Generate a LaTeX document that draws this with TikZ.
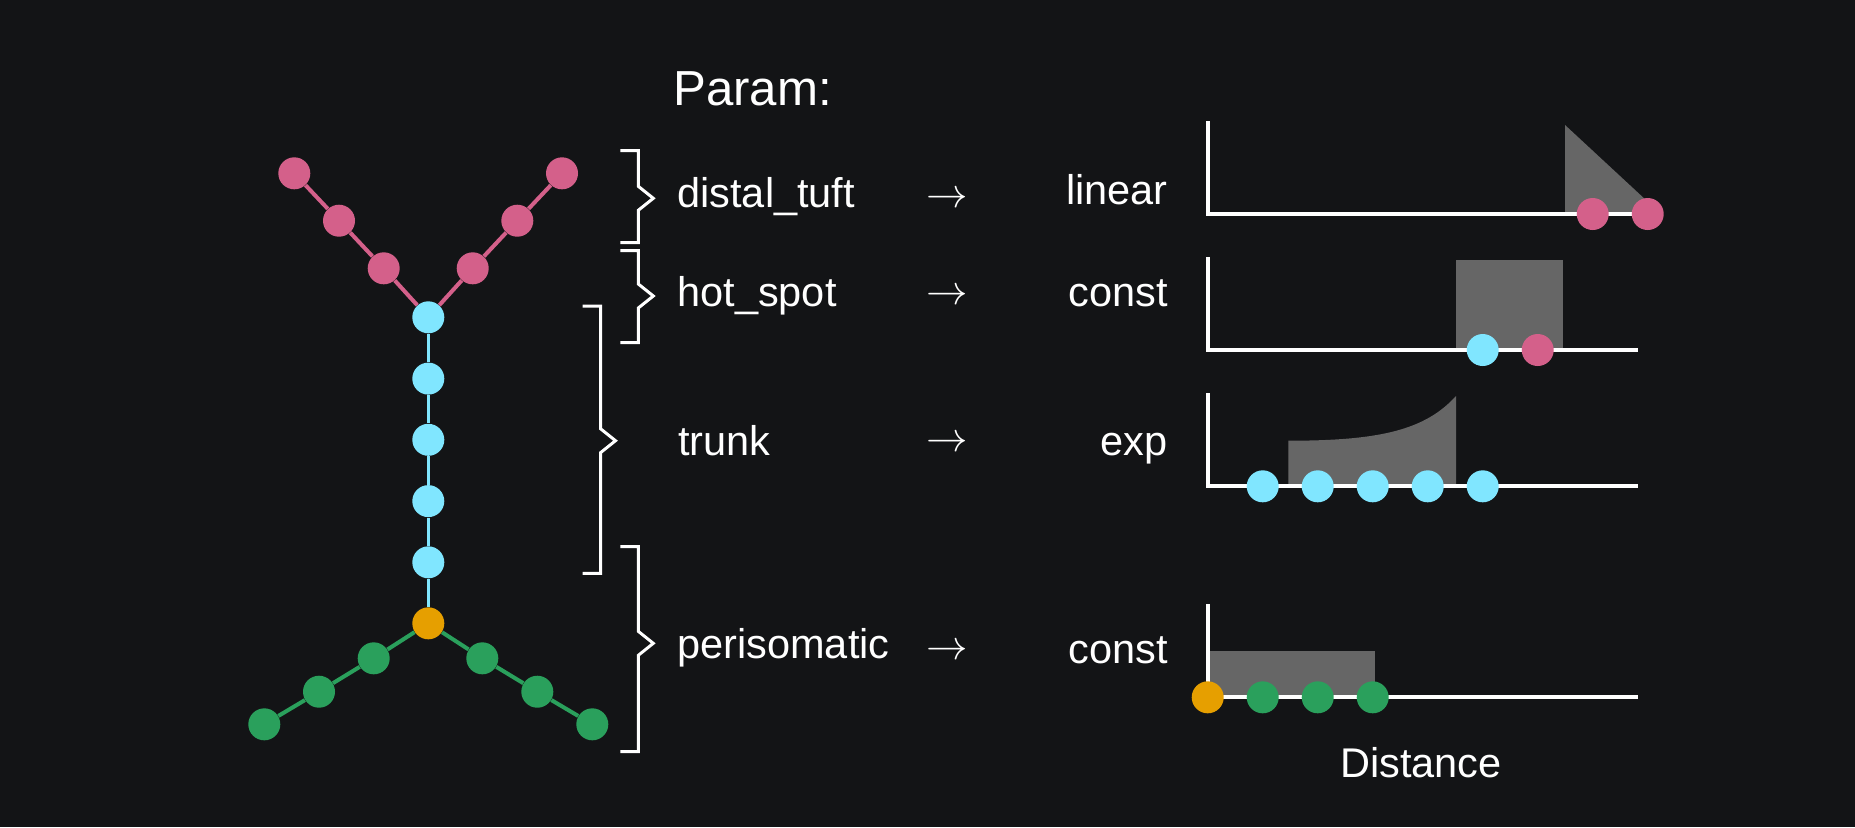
\documentclass[tikz,border=0pt]{standalone}
\usepackage{fontspec}
\setmainfont{Liberation Sans}
\usepackage{amsmath}
\usepackage{xcolor}
\usepackage{tikz}

\definecolor{bgdark}{RGB}{19,20,22}
\definecolor{tuftpink}{RGB}{212,96,138}
\definecolor{trunkcyan}{RGB}{128,230,255}
\definecolor{somaorange}{RGB}{230,159,0}
\definecolor{perigreen}{RGB}{42,160,92}
\definecolor{densgray}{RGB}{102,102,102}

% x, top, tip, bottom
\newcommand{\sidebrace}[4]{%
  \draw[brace] (#1-18,#2) -- (#1,#2) -- (#1,#3-12) -- (#1+15,#3) -- (#1,#3+12) -- (#1,#4) -- (#1-18,#4);}

\begin{document}
\begin{tikzpicture}[x=0.5pt, y=-0.5pt,
    comp/.style={circle, fill=#1, minimum size=16pt, inner sep=0pt},
    branch/.style={draw=#1, line width=2pt},
    axis/.style={draw=white, line width=2pt},
    brace/.style={draw=white, line width=1.5pt},
    lbl/.style={text=white, inner sep=0pt, font=\fontsize{20.75}{25}\selectfont}]
    \fill[bgdark] (0,0) rectangle (1855,827);

    % morphology
    \node[comp=tuftpink] (tl1) at (294.3,173.3) {};
    \node[comp=tuftpink] (tl2) at (339,220.7) {};
    \node[comp=tuftpink] (tl3) at (383.7,268.3) {};
    \node[comp=tuftpink] (tr3) at (472.7,268.3) {};
    \node[comp=tuftpink] (tr2) at (517.3,220.7) {};
    \node[comp=tuftpink] (tr1) at (562,173.3) {};
    \node[comp=trunkcyan] (t0) at (428.3,317.3) {};
    \node[comp=trunkcyan] (t1) at (428.3,378.6) {};
    \node[comp=trunkcyan] (t2) at (428.3,439.8) {};
    \node[comp=trunkcyan] (t3) at (428.3,501.1) {};
    \node[comp=trunkcyan] (t4) at (428.3,562.3) {};
    \node[comp=somaorange] (soma) at (428.3,623.3) {};
    \node[comp=perigreen] (gl1) at (373.7,658.3) {};
    \node[comp=perigreen] (gl2) at (319,691.7) {};
    \node[comp=perigreen] (gl3) at (264.3,724.3) {};
    \node[comp=perigreen] (gr1) at (482.3,658.3) {};
    \node[comp=perigreen] (gr2) at (537.3,691.7) {};
    \node[comp=perigreen] (gr3) at (592.3,724.3) {};
    \draw[branch=tuftpink] (t0) -- (tl3) -- (tl2) -- (tl1);
    \draw[branch=tuftpink] (t0) -- (tr3) -- (tr2) -- (tr1);
    \draw[branch=trunkcyan, line width=1.75pt] (t0) -- (t1) -- (t2) -- (t3) -- (t4) -- (soma);
    \draw[branch=perigreen] (soma) -- (gl1) -- (gl2) -- (gl3);
    \draw[branch=perigreen] (soma) -- (gr1) -- (gr2) -- (gr3);

    % braces
    \sidebrace{638.3}{150.7}{198.3}{242.7}
    \sidebrace{638.3}{250.7}{296}{342.7}
    \sidebrace{600.5}{306}{440.7}{573.3}
    \sidebrace{638.3}{546.7}{643.3}{751.7}

    % labels
    \node[lbl, anchor=base west, font=\fontsize{24.6}{29}\selectfont] (param) at (673,105) {Param:};
    \node[lbl, anchor=base west] (dt) at (677,207.5) {distal\_tuft};
    \node[lbl, anchor=base west] (hs) at (677,306.5) {hot\_spot};
    \node[lbl, anchor=base west] (tk) at (678,455) {trunk};
    \node[lbl, anchor=base west] (ps) at (677,658.3) {perisomatic};
    \node[lbl, anchor=base] (a1) at (947.5,207) {$\rightarrow$};
    \node[lbl, anchor=base] (a2) at (947.5,304) {$\rightarrow$};
    \node[lbl, anchor=base] (a3) at (947.5,451) {$\rightarrow$};
    \node[lbl, anchor=base] (a4) at (947.5,659.5) {$\rightarrow$};
    \node[lbl, anchor=base east] (f1) at (1168,204) {linear};
    \node[lbl, anchor=base east] (f2) at (1168,306) {const};
    \node[lbl, anchor=base east] (f3) at (1168,455) {exp};
    \node[lbl, anchor=base east] (f4) at (1168,663.3) {const};

    % densities
    \fill[densgray] (1565,125) -- (1565,214) -- (1661,214) -- cycle;
    \fill[densgray] (1456,260) rectangle (1563,350);
    \fill[densgray] (1288.3,486.3) -- (1288.3,440.7) .. controls (1380,440.7) and (1425,430) .. (1456,396) -- (1456,486.3) -- cycle;
    \fill[densgray] (1207.7,651.3) rectangle (1375.3,697.3);
    \draw[axis] (1207.7,121) -- (1207.7,214) -- (1637.7,214);
    \draw[axis] (1207.7,257) -- (1207.7,350) -- (1637.7,350);
    \draw[axis] (1207.7,393.3) -- (1207.7,486.3) -- (1637.7,486.3);
    \draw[axis] (1207.7,604) -- (1207.7,697.3) -- (1637.7,697.3);

    \node[comp=tuftpink] (d1a) at (1592.7,214) {};
    \node[comp=tuftpink] (d1b) at (1647.7,214) {};
    \node[comp=trunkcyan] (d2a) at (1482.7,350) {};
    \node[comp=tuftpink] (d2b) at (1537.7,350) {};
    \node[comp=trunkcyan] (d3a) at (1262.7,486.3) {};
    \node[comp=trunkcyan] (d3b) at (1317.7,486.3) {};
    \node[comp=trunkcyan] (d3c) at (1372.7,486.3) {};
    \node[comp=trunkcyan] (d3d) at (1427.7,486.3) {};
    \node[comp=trunkcyan] (d3e) at (1482.7,486.3) {};
    \node[comp=somaorange] (d4a) at (1207.7,697.3) {};
    \node[comp=perigreen] (d4b) at (1262.7,697.3) {};
    \node[comp=perigreen] (d4c) at (1317.7,697.3) {};
    \node[comp=perigreen] (d4d) at (1372.7,697.3) {};
    \node[lbl, anchor=base] (dist) at (1421,777.7) {Distance};
\end{tikzpicture}
\end{document}
